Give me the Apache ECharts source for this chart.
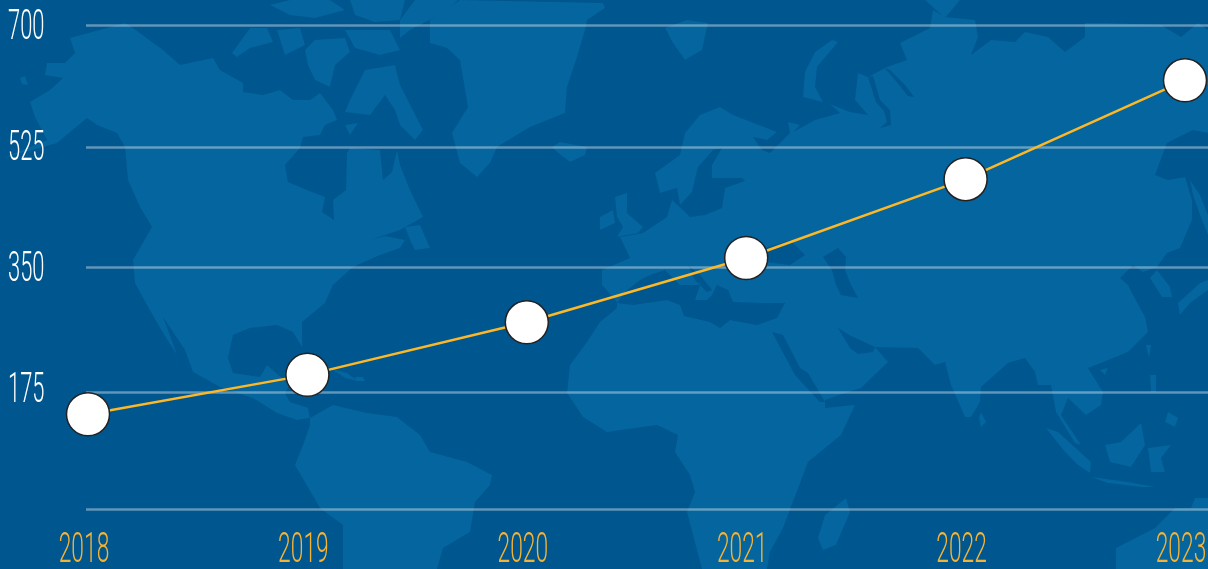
<!DOCTYPE html>
<html>
<head>
<meta charset="utf-8">
<style>
html,body{margin:0;padding:0;background:#00568f;overflow:hidden}
#main{width:1208px;height:569px}
</style>
<script src="https://cdn.jsdelivr.net/npm/echarts@6/dist/echarts.min.js"></script>
</head>
<body>
<div id="main"></div>
<script>
var years = ['2018','2019','2020','2021','2022','2023'];
var values = [137, 194, 270, 363, 477, 620];
var yTickLabels = [175, 350, 525, 700];
var gridLineValues = [0, 169, 350, 523, 700];

// backdrop map, traced by hand in page pixels, not data
var landShapes = [
  // north + central america
  [[125,23],[70,38],[75,53],[65,63],[47,63],[45,75],[63,78],[50,90],[30,102],[35,117],[47,140],[3,158],[57,143],[87,118],[97,125],[117,133],[125,147],[128,180],[140,207],[152,227],[133,260],[135,283],[147,305],[160,328],[177,355],[168,330],[163,317],[185,350],[193,372],[220,387],[253,398],[277,413],[297,420],[310,418],[308,408],[290,402],[285,393],[290,385],[267,365],[260,377],[233,373],[228,358],[233,335],[250,328],[277,325],[293,332],[302,347],[302,322],[325,303],[333,285],[353,267],[380,255],[400,248],[405,240],[385,236],[370,240],[400,230],[423,217],[410,190],[400,165],[397,150],[392,172],[383,180],[380,150],[350,148],[347,153],[346,190],[333,200],[334,220],[322,212],[325,197],[307,190],[288,182],[285,165],[300,148],[303,137],[320,135],[325,125],[337,120],[333,110],[320,93],[310,100],[293,100],[280,90],[263,95],[243,92],[243,83],[220,70],[213,58],[180,65],[163,50],[133,28]],
  // south america
  [[310,418],[333,405],[367,413],[397,417],[420,435],[430,452],[467,462],[492,475],[490,485],[475,502],[470,532],[443,548],[437,569],[343,569],[343,525],[320,508],[295,465],[303,445],[310,425]],
  // eurasia + africa
  [[720,107],[733,115],[777,132],[767,140],[753,137],[762,150],[770,153],[790,133],[788,122],[800,125],[793,132],[815,120],[840,113],[830,104],[850,112],[868,115],[855,100],[858,73],[868,77],[887,67],[907,60],[900,43],[930,28],[933,10],[945,17],[975,20],[978,37],[971,55],[991,40],[1015,42],[1025,32],[1048,37],[1065,52],[1085,37],[1085,23],[1108,23],[1161,25],[1181,37],[1198,23],[1208,30],[1208,133],[1193,130],[1167,143],[1155,175],[1168,180],[1185,177],[1192,200],[1192,220],[1180,248],[1167,253],[1157,267],[1143,272],[1133,265],[1120,278],[1128,285],[1132,293],[1145,317],[1148,332],[1128,352],[1101,363],[1088,368],[1103,392],[1101,405],[1086,415],[1068,398],[1061,415],[1081,445],[1075,443],[1056,412],[1051,385],[1038,385],[1035,372],[1025,358],[1008,363],[998,372],[981,387],[980,402],[971,417],[965,417],[951,385],[945,362],[935,365],[918,348],[875,347],[888,362],[861,388],[845,393],[825,400],[825,408],[855,405],[841,435],[808,462],[783,528],[770,552],[767,569],[702,569],[687,512],[695,492],[690,475],[675,452],[678,435],[657,425],[607,432],[583,417],[567,393],[570,365],[587,342],[600,322],[617,308],[617,302],[602,285],[602,270],[630,258],[620,237],[643,233],[667,217],[672,200],[677,188],[660,193],[655,173],[680,155],[685,133],[700,115]],
  // greenland, ellesmere
  [[430,20],[460,0],[603,3],[605,8],[587,20],[585,30],[577,57],[567,87],[565,113],[530,127],[497,147],[490,163],[477,177],[460,163],[452,133],[468,107],[460,60],[447,48],[430,43]],
  [[400,20],[415,0],[458,0],[445,12],[410,30],[400,38]],
  // canadian arctic
  [[270,5],[290,0],[330,0],[345,10],[315,18],[290,15]],
  [[350,0],[405,0],[400,20],[375,22],[355,15]],
  [[232,53],[250,28],[267,28],[273,42],[250,48],[237,57]],
  [[305,50],[315,40],[345,38],[350,52],[335,65],[330,87],[315,80],[308,65]],
  [[277,30],[300,28],[305,45],[285,55]],
  [[345,30],[390,30],[400,50],[380,55],[355,48]],
  [[350,100],[365,70],[395,65],[400,85],[423,130],[415,140],[400,125],[395,110],[385,95],[370,115],[345,112]],
  [[345,125],[358,123],[350,135]],
  [[20,78],[25,76],[28,85],[22,84]],
  // newfoundland, cuba, hispaniola
  [[405,227],[420,225],[430,248],[415,250],[410,240]],
  [[330,368],[347,373],[358,381],[345,378]],
  [[355,377],[363,377],[365,381],[356,381]],
  // europe islands
  [[552,147],[560,142],[587,147],[585,155],[570,162],[557,152]],
  [[665,28],[687,20],[708,23],[702,50],[685,60],[673,43]],
  [[615,197],[627,193],[627,213],[643,227],[638,233],[617,237],[623,227],[617,217]],
  [[600,217],[613,210],[615,223],[600,230]],
  // novaya zemlya
  [[838,42],[832,40],[815,52],[805,72],[803,97],[823,102],[815,87],[817,67]],
  [[925,0],[960,0],[945,18]],
  // madagascar, asia islands, australia
  [[846,498],[850,512],[836,545],[823,550],[818,538],[825,515]],
  [[981,412],[986,422],[981,427],[979,418]],
  [[1046,428],[1058,432],[1091,462],[1090,473],[1078,465],[1065,452]],
  [[1091,477],[1128,482],[1155,487],[1141,487],[1108,483]],
  [[1105,445],[1121,442],[1141,423],[1145,445],[1131,467],[1110,462]],
  [[1148,448],[1171,445],[1161,458],[1165,472],[1151,472]],
  [[1150,375],[1156,375],[1156,392],[1151,392]],
  [[1168,412],[1178,418],[1175,427],[1165,422]],
  [[1146,345],[1151,345],[1149,358]],
  [[1100,370],[1108,368],[1105,375]],
  [[1157,270],[1170,287],[1172,297],[1162,297],[1150,278]],
  [[1178,303],[1200,283],[1208,280],[1208,290],[1190,303],[1180,315]],
  [[1190,180],[1200,195],[1208,215],[1208,235],[1200,215],[1193,195]],
  [[1116,548],[1155,528],[1175,508],[1191,508],[1195,498],[1208,498],[1208,569],[1116,569]]
];
var waterShapes = [
  // mediterranean
  [[617,303],[633,305],[667,300],[680,305],[684,316],[710,322],[720,328],[730,320],[757,325],[777,318],[785,303],[760,303],[733,302],[728,290],[717,285],[712,295],[707,300],[695,300],[700,285],[680,285],[665,270],[650,275],[640,280],[625,292]],
  [[688,265],[700,275],[712,290],[707,292],[695,280]],
  // black sea, caspian
  [[765,248],[790,240],[805,255],[790,265],[765,262]],
  [[823,257],[838,248],[846,257],[845,270],[851,285],[858,298],[841,295],[836,285],[832,270]],
  // red sea, persian gulf
  [[772,332],[783,335],[800,368],[808,373],[825,402],[820,402],[795,375]],
  [[838,328],[851,336],[875,347],[873,352],[858,354],[850,348]],
  // baltic + skagerrak
  [[680,205],[692,192],[698,167],[713,150],[722,148],[712,165],[712,178],[742,178],[745,181],[725,188],[722,208],[705,215],[690,217],[683,210],[672,200],[677,188]],
  // ob + yenisei
  [[868,77],[873,76],[880,100],[890,110],[891,125],[880,128],[887,122],[884,111],[876,102]],
  [[885,68],[890,70],[905,85],[914,97],[908,96],[900,86]]
];

var myChart = echarts.init(document.getElementById('main'));
var option = {
  animation: false,
  backgroundColor: '#00568f',
  grid: [
    { left: 86, right: 0, top: 25, bottom: 60 },
    { left: 88, right: 23, top: 25, bottom: 60 }
  ],
  xAxis: [
    { type: 'value', gridIndex: 0, min: 0, max: 1, show: false },
    { type: 'category', gridIndex: 1, data: years, boundaryGap: false,
      axisLine: { show: false }, axisTick: { show: false }, axisLabel: { show: false }, splitLine: { show: false } }
  ],
  yAxis: [
    { type: 'value', gridIndex: 0, min: 0, max: 700,
      axisLine: { show: false }, axisLabel: { show: false },
      axisTick: { show: false, customValues: gridLineValues },
      splitLine: { show: true, lineStyle: { color: 'rgba(255,255,255,0.38)', width: 2.5 } } },
    { type: 'value', gridIndex: 1, min: 0, max: 700, show: false }
  ],
  series: [
    {
      name: 'value',
      type: 'line',
      xAxisIndex: 1,
      yAxisIndex: 1,
      data: values,
      clip: false,
      symbol: 'circle',
      symbolSize: 43,
      lineStyle: { color: '#fdb827', width: 2.5 },
      itemStyle: { color: '#fff', borderColor: '#222', borderWidth: 1.5 }
    }
  ]
};
myChart.setOption(option);

// the labels are a very condensed face, so they are squeezed text placed through the axes
var elements = [];
landShapes.forEach(function (pts) {
  elements.push({ type: 'polygon', silent: true, z: -10, shape: { points: pts }, style: { fill: '#05659e' } });
});
waterShapes.forEach(function (pts) {
  elements.push({ type: 'polygon', silent: true, z: -9, shape: { points: pts }, style: { fill: '#00568f' } });
});
yTickLabels.forEach(function (v) {
  var y = myChart.convertToPixel({ yAxisIndex: 1 }, v);
  elements.push({ type: 'text', silent: true, z: 5, x: 8, y: y + 3, scaleX: 0.51, originX: 0, originY: 0,
    style: { text: String(v), fill: '#fff', font: '300 43px Roboto', textAlign: 'left', textVerticalAlign: 'middle' } });
});
years.forEach(function (yr, i) {
  var x = myChart.convertToPixel({ xAxisIndex: 1 }, i) - 4;
  elements.push({ type: 'text', silent: true, z: 5, x: x, y: 551, scaleX: 0.53, originX: 0, originY: 0,
    style: { text: yr, fill: '#f5b335', font: '300 43px Roboto', textAlign: 'center', textVerticalAlign: 'middle' } });
});
myChart.setOption({ graphic: { elements: elements } });
</script>
</body>
</html>
